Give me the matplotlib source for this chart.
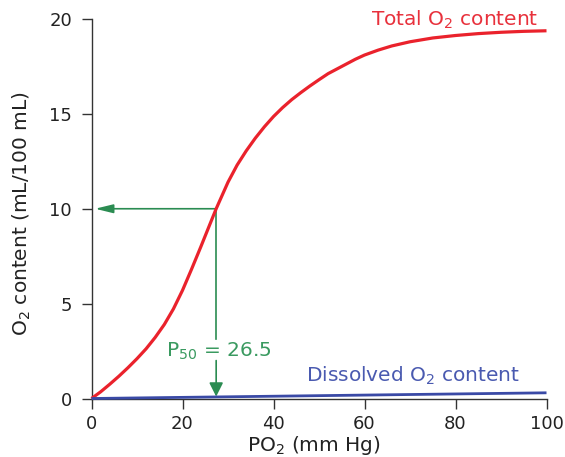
import matplotlib
matplotlib.use("Agg")
import matplotlib.pyplot as plt

# ---- data ----
po2 = [0, 2, 4, 6, 8, 10, 12, 14, 16, 18, 20, 22, 24, 26, 27.4, 30, 32, 34, 36,
       38, 40, 42, 44, 46, 48, 50, 52, 55, 58, 60, 63, 66, 70, 75, 80, 85, 90,
       95, 100]
total_o2 = [0, 0.35, 0.75, 1.17, 1.62, 2.1, 2.62, 3.22, 3.9, 4.72, 5.7, 6.82,
            7.98, 9.17, 10.0, 11.4, 12.3, 13.05, 13.72, 14.32, 14.86, 15.33,
            15.75, 16.12, 16.47, 16.8, 17.12, 17.5, 17.88, 18.1, 18.36, 18.58,
            18.8, 19.0, 19.13, 19.23, 19.3, 19.35, 19.38]
po2_dissolved = [0, 50, 100]
dissolved_o2 = [0, 0.15, 0.3]

p50_x = 27.4          # where the green guide meets the curve
half_content = 10     # O2 content at P50
p50_label = "P$_{50}$ = 26.5"

xticks = [0, 20, 40, 60, 80, 100]
yticks = [0, 5, 10, 15, 20]

RED = "#ea222c"
RED_TXT = "#e8313c"
BLUE = "#3a4aa6"
BLUE_TXT = "#4a5ab0"
GREEN = "#2b8c52"
GREEN_TXT = "#3a9a60"
AXC = "#333333"
TXT = "#222222"

plt.rcParams['font.family'] = ['DejaVu Sans']
plt.rcParams['mathtext.fontset'] = 'dejavusans'

W, H = 565, 457
fig = plt.figure(figsize=(W / 100, H / 100), dpi=100)
ax = fig.add_axes([91.5 / W, 1 - 398.5 / H, 455 / W, 379.5 / H])

ax.set_xlim(0, 100)
ax.set_ylim(0, 20)

ax.plot(po2, total_o2, color=RED, lw=2.3, clip_on=False, zorder=3,
        solid_joinstyle='round', solid_capstyle='butt')
ax.plot(po2_dissolved, dissolved_o2, color=BLUE, lw=2.0, clip_on=False, zorder=3,
        solid_capstyle='butt')

# green guides
ax.annotate("", xy=(0.8, half_content), xytext=(p50_x, half_content),
            arrowprops=dict(arrowstyle='-|>,head_length=0.9,head_width=0.22',
                            mutation_scale=12, color=GREEN, lw=1.2,
                            shrinkA=0, shrinkB=0), zorder=2)
ax.plot([p50_x, p50_x], [half_content, 3.15], color=GREEN, lw=1.2, zorder=2)
ax.annotate("", xy=(p50_x, 0.1), xytext=(p50_x, 2.0),
            arrowprops=dict(arrowstyle='-|>,head_length=0.7,head_width=0.35',
                            mutation_scale=12, color=GREEN, lw=1.2,
                            shrinkA=0, shrinkB=0), zorder=2)
ax.text(p50_x + 0.5, 2.22, p50_label, color=GREEN_TXT, fontsize=14.5,
        ha='center', va='baseline')

ax.text(98.3, 19.66, "Total O$_2$ content", color=RED_TXT, fontsize=14.5,
        ha='right', va='baseline')
ax.text(94.2, 0.88, "Dissolved O$_2$ content", color=BLUE_TXT, fontsize=14.5,
        ha='right', va='baseline')

for s in ['top', 'right']:
    ax.spines[s].set_visible(False)
for s in ['left', 'bottom']:
    ax.spines[s].set_color(AXC)
    ax.spines[s].set_linewidth(1.0)
ax.spines['left'].set_bounds(0, 20)
ax.spines['bottom'].set_bounds(0, 100)

ax.set_xticks(xticks)
ax.set_yticks(yticks)
ax.set_xticklabels([str(t) for t in xticks])
ax.set_yticklabels([str(t) for t in yticks])
ax.tick_params(axis='both', direction='out', length=7, width=1.0, color=AXC,
               labelsize=13, labelcolor=TXT)
ax.tick_params(axis='x', pad=5)
ax.tick_params(axis='y', pad=7)

ax.set_xlabel("PO$_2$ (mm Hg)", fontsize=14.5, color=TXT)
ax.set_ylabel("O$_2$ content (mL/100 mL)", fontsize=14.5, color=TXT)
ax.xaxis.set_label_coords(0.489, -0.093)
ax.yaxis.set_label_coords(-0.128, 0.4875)

fig.savefig("out.png", dpi=100)
